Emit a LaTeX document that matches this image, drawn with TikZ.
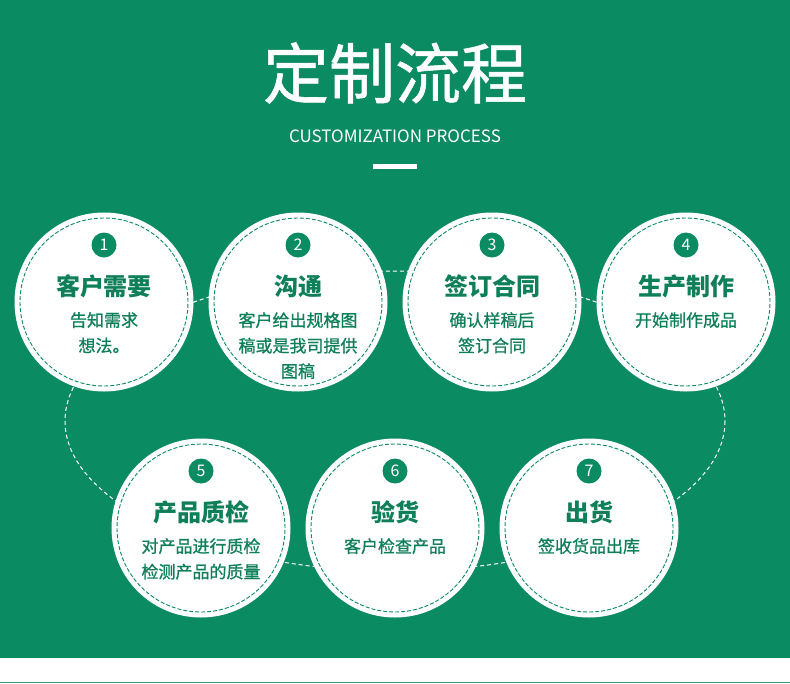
\documentclass[tikz,border=0pt]{standalone}
\usepackage{fontspec}
\usetikzlibrary{calc}
\setmainfont{Noto Sans CJK SC}
\newfontfamily\subfont{Noto Sans CJK SC}[FakeBold=0.9]
\newfontfamily\headfont{Noto Sans CJK SC}[FakeBold=0.8]
\definecolor{bggreen}{HTML}{0B8B62}
\definecolor{txtgreen}{HTML}{0E7F58}
\definecolor{linegreen}{HTML}{2E9A74}
\tikzset{
  bigcirc/.style={circle,fill=white,minimum size=179pt,inner sep=0pt},
  innerring/.style={circle,draw=bggreen,line width=0.9pt,dash pattern=on 4pt off 2pt,minimum size=168pt,inner sep=0pt},
  badge/.style={circle,fill=bggreen,minimum size=25pt,inner sep=0pt,text=white,font=\fontsize{16}{16}\selectfont},
  ctitle/.style={text=txtgreen,font=\fontsize{24}{28}\selectfont\bfseries,inner sep=0pt},
  csub/.style={text=txtgreen,font=\subfont\fontsize{17}{25.5}\selectfont,align=center,inner sep=0pt},
  loopline/.style={draw=white,line width=1pt,dash pattern=on 4pt off 3pt}
}
\begin{document}
\begin{tikzpicture}[x=1pt,y=-1pt]
\useasboundingbox (0,0) rectangle (790,683);
\fill[bggreen] (0,0) rectangle (790,657.7);
\fill[linegreen] (0,681.5) rectangle (790,683);
% header
\node[text=white,font=\headfont\fontsize{66}{66}\selectfont,inner sep=0pt] (title) at (395,73) {定制流程};
\node[text=white,font=\fontsize{17}{17}\selectfont,inner sep=0pt] (subtitle) at (395,136.5) {CUSTOMIZATION PROCESS};
\fill[white] (373,164) rectangle (417,169);
% loop behind circles
\draw[loopline] (395,421) ellipse [x radius=330, y radius=150];
% circles
\foreach \n/\x/\y in {1/104/302,2/298/302,3/492/302,4/686/302,5/201/528,6/395/528,7/589/528}{
  \node[bigcirc] (c\n) at (\x,\y) {};
  \node[innerring] (r\n) at (\x,\y) {};
  \node[badge] (b\n) at (\x,\y-57) {\n};
}
\node[ctitle] (t1) at ($(c1)+(0,-16)$) {客户需要};
\node[ctitle] (t2) at ($(c2)+(0,-16)$) {沟通};
\node[ctitle] (t3) at ($(c3)+(0,-16)$) {签订合同};
\node[ctitle] (t4) at ($(c4)+(0,-16)$) {生产制作};
\node[ctitle] (t5) at ($(c5)+(0,-16)$) {产品质检};
\node[ctitle] (t6) at ($(c6)+(0,-16)$) {验货};
\node[ctitle] (t7) at ($(c7)+(0,-16)$) {出货};
\node[csub,anchor=north] (s1) at ($(c1)+(0,10)$) {告知需求\\想法。};
\node[csub,anchor=north] (s2) at ($(c2)+(0,10)$) {客户给出规格图\\稿或是我司提供\\图稿};
\node[csub,anchor=north] (s3) at ($(c3)+(0,10)$) {确认样稿后\\签订合同};
\node[csub,anchor=north] (s4) at ($(c4)+(0,10)$) {开始制作成品};
\node[csub,anchor=north] (s5) at ($(c5)+(0,10)$) {对产品进行质检\\检测产品的质量};
\node[csub,anchor=north] (s6) at ($(c6)+(0,10)$) {客户检查产品};
\node[csub,anchor=north] (s7) at ($(c7)+(0,10)$) {签收货品出库};
\end{tikzpicture}
\end{document}
